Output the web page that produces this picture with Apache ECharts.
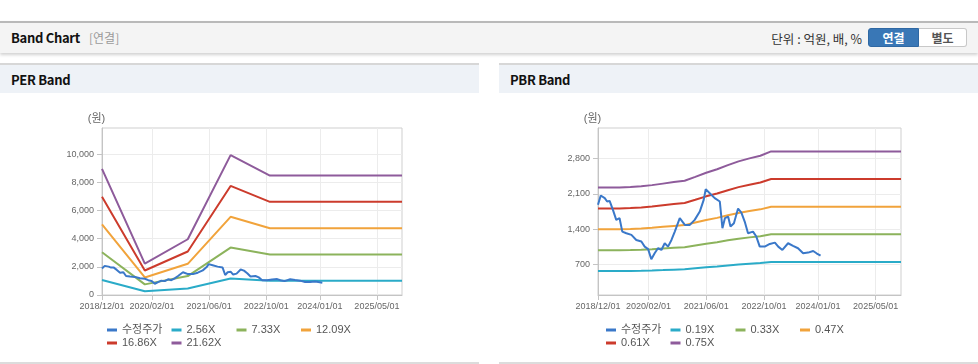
<!DOCTYPE html>
<html>
<head>
<meta charset="utf-8">
<script src="https://cdn.jsdelivr.net/npm/echarts@6/dist/echarts.min.js"></script>
<style>
  html, body { margin:0; padding:0; background:#fff; width:978px; height:364px; overflow:hidden; }
  body { position:relative; font-family: "Noto Sans CJK KR", "Noto Sans", sans-serif; }
  #topbar { position:absolute; left:0; top:21px; width:978px; height:30px; background:#f4f4f4; border-top:2px solid #b9b9b9; box-shadow:0 2px 3px rgba(0,0,0,0.18); }
  #topbar .t { position:absolute; left:11px; top:5px; font-size:13px; font-weight:bold; color:#111; letter-spacing:-0.3px; }
  #topbar .s { position:absolute; left:89px; top:6px; font-size:12px; color:#9a9a9a; }
  #topbar .u { position:absolute; right:116px; top:6px; font-size:12.5px; color:#333; }
  .btn { position:absolute; top:5px; height:19px; line-height:18px; font-size:12px; font-weight:bold; text-align:center; box-sizing:border-box; }
  #b1 { left:868px; width:51px; background:#3977b6; color:#fff; border:1px solid #2f68a3; border-radius:3px 0 0 3px; }
  #b2 { left:919px; width:48px; background:#fff; color:#555; border:1px solid #c8c8c8; border-left:none; border-radius:0 3px 3px 0; }
  .panel { position:absolute; top:63px; width:479px; height:297px; border-top:2px solid #d7d7d7; border-bottom:2px solid #dcdcdc; }
  .phead { position:absolute; left:0; top:0; width:100%; height:28px; background:#eef2f7; }
  .phead span { position:absolute; left:11px; top:5px; font-size:13px; font-weight:bold; color:#111; letter-spacing:-0.3px; }
  .chart { position:absolute; left:0; top:28px; width:479px; height:269px; }
</style>
</head>
<body>
<div id="topbar">
  <div class="t">Band Chart</div><div class="s">[연결]</div>
  <div class="u">단위 : 억원, 배, %</div>
  <div class="btn" id="b1">연결</div><div class="btn" id="b2">별도</div>
</div>
<div class="panel" style="left:0;"><div class="phead"><span>PER Band</span></div><div class="chart" id="per"></div></div>
<div class="panel" style="left:499px;"><div class="phead"><span>PBR Band</span></div><div class="chart" id="pbr"></div></div>
<script>
// ---- x axis tick labels ----
const xTickLabels = ['2018/12/01','2020/02/01','2021/06/01','2022/10/01','2024/01/01','2025/05/01'];
const xMin = '2018/12/01';
const xMax = '2025/12/01';

// ---- adjusted price (수정주가) ----
const priceDates = ['2018-12-01','2018-12-24','2019-01-27','2019-02-16','2019-03-09','2019-04-06','2019-05-04','2019-06-01','2019-06-24','2019-07-28','2019-09-09','2019-10-20','2019-12-02','2019-12-30','2020-01-28','2020-02-24','2020-03-23','2020-04-20','2020-05-19','2020-06-16','2020-07-14','2020-08-12','2020-09-09','2020-10-21','2020-12-03','2021-01-14','2021-02-24','2021-04-08','2021-05-11','2021-05-28','2021-07-01','2021-08-12','2021-09-24','2021-10-16','2021-11-06','2021-12-03','2021-12-23','2022-01-21','2022-02-25','2022-03-25','2022-04-22','2022-05-20','2022-07-01','2022-07-29','2022-08-27','2022-10-08','2022-11-20','2023-01-02','2023-01-30','2023-03-06','2023-04-23','2023-06-04','2023-07-16','2023-08-28','2023-10-09','2023-11-21','2023-12-19','2024-01-22'];
const priceValues = [1881,2066,2014,1947,1960,1781,1582,1615,1349,1317,1284,1183,1151,1050,1000,799,918,1018,984,1117,1050,1183,1349,1615,1482,1482,1582,1747,1980,2193,2113,2014,1947,1416,1615,1648,1449,1515,1807,1728,1549,1317,1349,1250,1050,1050,1104,1130,1050,984,1117,1064,1018,918,931,964,918,872];

// ---- PER band ----
const perBandDates = ['2018-12-01','2019-12-01','2020-12-01','2021-12-01','2022-11-01','2025-12-01'];
const per256  = [1060, 264, 468, 1175, 1004, 1004];
const per733  = [3035, 755, 1341, 3364, 2873, 2873];
const per1209 = [5005, 1245, 2212, 5549, 4739, 4739];
const per1686 = [6980, 1737, 3085, 7739, 6609, 6609];
const per2162 = [8951, 2227, 3956, 9924, 8475, 8475];
const perYTicks = [0, 2000, 4000, 6000, 8000, 10000];
const perYMin = 0, perYMax = 11850;

// ---- PBR band ----
const pbrBandDates = ['2018-12-01','2019-03-01','2019-06-01','2019-09-01','2019-12-01','2020-03-01','2020-06-01','2020-09-01','2020-12-01','2021-03-01','2021-06-01','2021-09-01','2021-12-01','2022-03-01','2022-06-01','2022-09-01','2022-12-01','2025-12-01'];
const pbr019 = [564,564,564,566,570,576,583,591,598,618,638,656,676,695,711,724,746,746];
const pbr033 = [979,979,979,983,990,1000,1013,1026,1038,1073,1109,1139,1175,1208,1234,1257,1295,1295];
const pbr047 = [1394,1394,1394,1401,1410,1424,1443,1462,1478,1528,1579,1622,1673,1720,1758,1791,1844,1844];
const pbr061 = [1810,1810,1810,1818,1830,1848,1873,1897,1918,1983,2050,2105,2172,2233,2281,2324,2394,2394];
const pbr075 = [2225,2225,2225,2235,2250,2273,2303,2333,2359,2438,2520,2588,2670,2745,2805,2858,2943,2943];
const pbrYTicks = [700, 1400, 2100, 2800];
const pbrYMin = 88, pbrYMax = 3409;

const perNames = ['수정주가','2.56X','7.33X','12.09X','16.86X','21.62X'];
const pbrNames = ['수정주가','0.19X','0.33X','0.47X','0.61X','0.75X'];
const colors = ['#3a78c9','#2aabc8','#8cb35c','#f1a33b','#cc3b2c','#8e5b9b'];

function toTs(s){ const p = s.split(/[-\/]/).map(Number); return new Date(p[0], p[1]-1, p[2]).getTime(); }
function pad(n){ return (n<10?'0':'')+n; }
function fmtDate(v){ const d = new Date(v); return d.getFullYear()+'/'+pad(d.getMonth()+1)+'/'+pad(d.getDate()); }
function pairs(ds, vs){ return ds.map((d,i)=>[toTs(d), vs[i]]); }

const font = 'Arial, "Liberation Sans", "Noto Sans CJK KR", sans-serif';
const legendCols = [107, 171.5, 236.5, 301];
const legendRows = [231.5, 244.5];

function build(el, names, bands, bandDates, yTicks, yMin, yMax, gridLeft){
  const chart = echarts.init(document.getElementById(el), null, {renderer:'canvas'});
  const series = [];
  bands.forEach((b,i)=>{
    series.push({ name:names[i+1], type:'line', data:pairs(bandDates,b), showSymbol:false, symbol:'none',
      lineStyle:{width:2, color:colors[i+1]}, itemStyle:{color:colors[i+1]}, z:2 });
  });
  series.unshift({ name:names[0], type:'line', data:pairs(priceDates,priceValues), showSymbol:false, symbol:'none',
      lineStyle:{width:2, color:colors[0]}, itemStyle:{color:colors[0]}, z:3 });
  const legends = names.map((n,i)=>({
      orient:'horizontal', itemWidth:10, itemHeight:3, icon:'rect', padding:0,
      left:legendCols[i%4], top:legendRows[Math.floor(i/4)], data:[n],
      textStyle:{fontSize:11, color:'#555', fontFamily:font} }));
  chart.setOption({
    animation:false,
    color:colors,
    grid:{ left:gridLeft, top:35, right:77, bottom:67, show:true, borderColor:'#cfcfcf', borderWidth:1 },
    legend:legends,
    xAxis:{ type:'value', min:toTs(xMin), max:toTs(xMax),
      axisLine:{lineStyle:{color:'#c4c4c4'}},
      axisTick:{show:true, length:5, lineStyle:{color:'#c4c4c4'}, customValues:xTickLabels.map(toTs)},
      axisLabel:{ customValues:xTickLabels.map(toTs), formatter:fmtDate, fontSize:9, color:'#666', fontFamily:font, margin:7, hideOverlap:false },
      splitLine:{show:true, lineStyle:{color:'#ececec'}} },
    yAxis:{ type:'value', min:yMin, max:yMax, name:'(원)', nameLocation:'end', nameGap:4,
      nameTextStyle:{fontSize:11, color:'#666', fontFamily:font, padding:[0,11,0,0]},
      axisLine:{show:true, lineStyle:{color:'#c4c4c4'}},
      axisTick:{show:true, length:5, lineStyle:{color:'#c4c4c4'}, customValues:yTicks},
      axisLabel:{ customValues:yTicks, formatter:v=>Number(v).toLocaleString('en-US'), fontSize:9, color:'#666', fontFamily:font, margin:8 },
      splitLine:{show:true, lineStyle:{color:'#ececec'}} },
    series:series
  });
}
build('per', perNames, [per256,per733,per1209,per1686,per2162], perBandDates, perYTicks, perYMin, perYMax, 102);
build('pbr', pbrNames, [pbr019,pbr033,pbr047,pbr061,pbr075], pbrBandDates, pbrYTicks, pbrYMin, pbrYMax, 99);
</script>
</body>
</html>
